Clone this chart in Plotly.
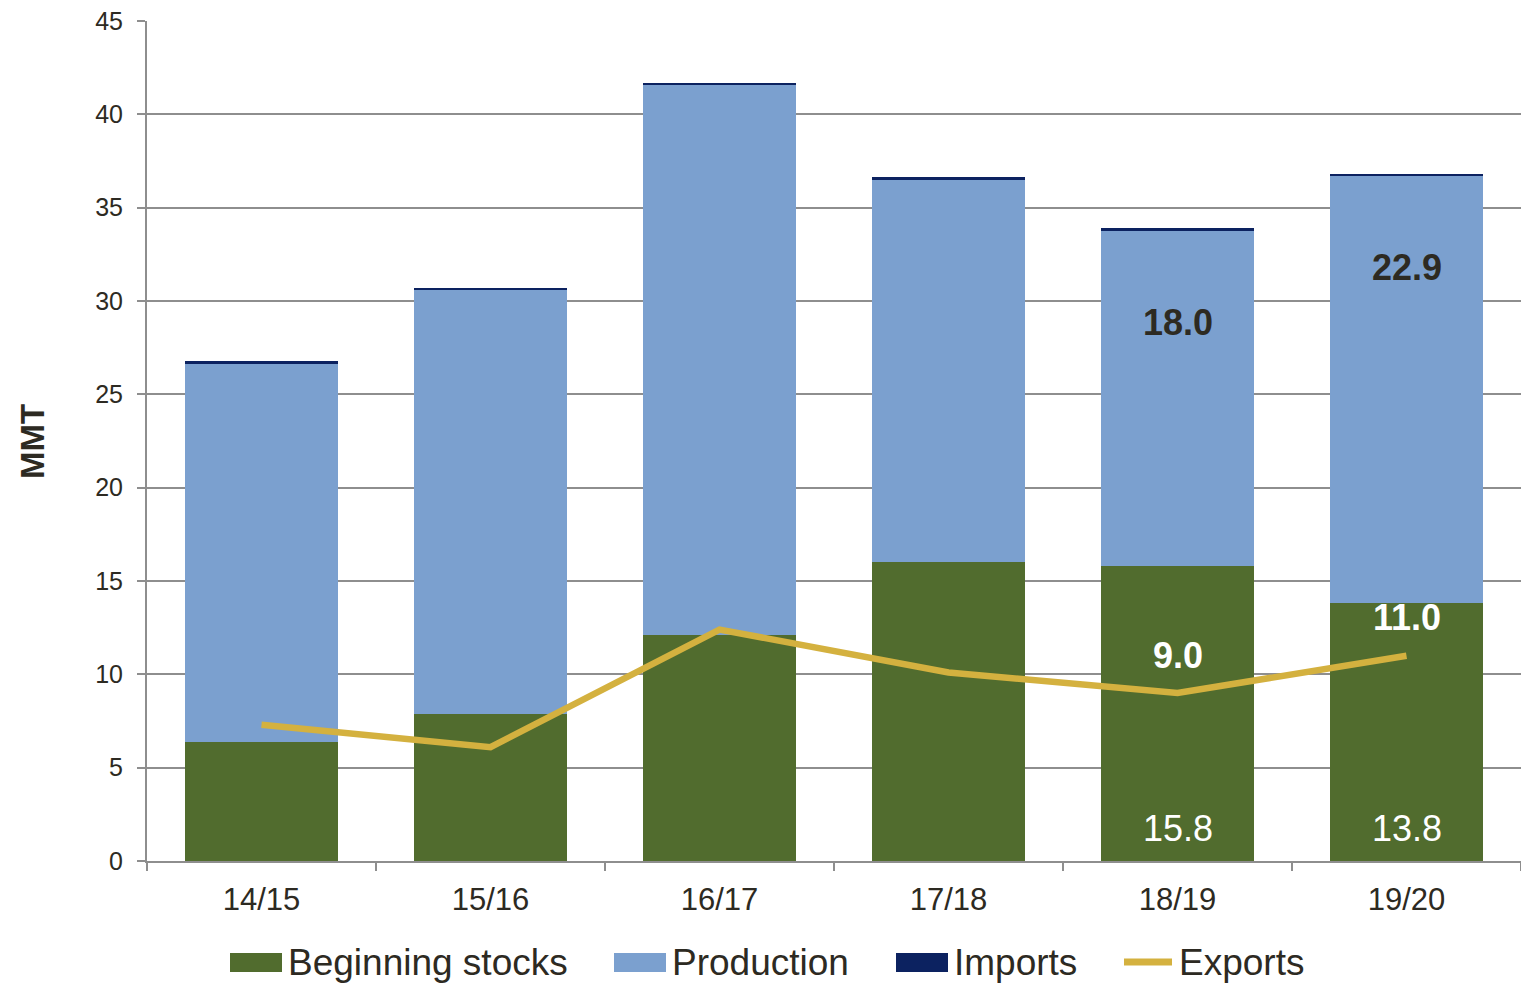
import plotly.graph_objects as go

# ---- data ----
categories = ["14/15", "15/16", "16/17", "17/18", "18/19", "19/20"]
beginning_stocks = [6.4, 7.9, 12.1, 16.0, 15.8, 13.8]
production = [20.2, 22.7, 29.5, 20.5, 18.0, 22.9]
imports = [0.2, 0.1, 0.1, 0.15, 0.1, 0.1]
exports = [7.3, 6.1, 12.4, 10.1, 9.0, 11.0]
labeled = ["18/19", "19/20"]

C_BS = "#516C2E"
C_PROD = "#7BA0CF"
C_IMP = "#0C2260"
C_EXP = "#D4B13F"
TXT = "#2D2A22"
GRID = "#8E8E8E"
FONT = "Liberation Sans, Arial, sans-serif"

fig = go.Figure()
fig.add_trace(go.Bar(name="Beginning stocks", x=categories, y=beginning_stocks,
                     marker=dict(color=C_BS, line=dict(width=0))))
fig.add_trace(go.Bar(name="Production", x=categories, y=production,
                     marker=dict(color=C_PROD, line=dict(width=0))))
fig.add_trace(go.Bar(name="Imports", x=categories, y=imports,
                     marker=dict(color=C_IMP, line=dict(width=0))))
fig.add_trace(go.Scatter(name="Exports", x=categories, y=exports, mode="lines",
                         line=dict(color=C_EXP, width=6.5)))

# data labels
for i, c in enumerate(categories):
    if c not in labeled:
        continue
    fig.add_annotation(x=c, y=0, yshift=33, text=f"{beginning_stocks[i]:.1f}",
                       showarrow=False, font=dict(family=FONT, size=36, color="white"))
    fig.add_annotation(x=c, y=beginning_stocks[i] + production[i], yshift=-92,
                       text=f"<b>{production[i]:.1f}</b>", showarrow=False,
                       font=dict(family=FONT, size=36, color=TXT))
    fig.add_annotation(x=c, y=exports[i], yshift=38, text=f"<b>{exports[i]:.1f}</b>",
                       showarrow=False, font=dict(family=FONT, size=36, color="white"))

# y-axis title
fig.add_annotation(xref="paper", yref="paper", x=-0.0837, y=0.5, text="<b>MMT</b>",
                   textangle=-90, showarrow=False, xanchor="center", yanchor="middle",
                   font=dict(family=FONT, size=33, color=TXT))

# custom legend (pixel -> paper: x=(px-147)/1374, y=(861-py)/840)
def px(x):
    return (x - 147) / 1374

def py(y):
    return (861 - y) / 840

legend_items = [
    ("Beginning stocks", C_BS, "rect", 230),
    ("Production", C_PROD, "rect", 614),
    ("Imports", C_IMP, "rect", 896),
    ("Exports", C_EXP, "line", 1121),
]
for name, col, kind, x0 in legend_items:
    if kind == "rect":
        fig.add_shape(type="rect", xref="paper", yref="paper",
                      x0=px(x0), x1=px(x0 + 52), y0=py(972), y1=py(953),
                      fillcolor=col, line=dict(width=0))
    else:
        fig.add_shape(type="line", xref="paper", yref="paper",
                      x0=px(x0 + 3), x1=px(x0 + 51), y0=py(962), y1=py(962),
                      line=dict(color=col, width=7))
    fig.add_annotation(xref="paper", yref="paper", x=px(x0 + 56), y=py(962),
                       xanchor="left", yanchor="middle", text=name, showarrow=False,
                       font=dict(family=FONT, size=37, color=TXT))

fig.update_layout(
    barmode="stack",
    bargap=0.335,
    width=1521, height=984,
    autosize=False,
    margin=dict(l=147, r=0, t=21, b=123),
    paper_bgcolor="white",
    plot_bgcolor="white",
    showlegend=False,
    font=dict(family=FONT, color=TXT),
    xaxis=dict(
        type="category",
        range=[-0.5, 5.5],
        showline=True, linecolor=GRID, linewidth=2,
        ticks="outside", tickson="boundaries", ticklen=8, tickcolor=GRID, tickwidth=2,
        tickfont=dict(family=FONT, size=31, color=TXT),
        ticklabelstandoff=10,
        showgrid=False,
    ),
    yaxis=dict(
        range=[0, 45], dtick=5, tick0=0,
        showline=True, linecolor=GRID, linewidth=2,
        ticks="outside", ticklen=8, tickcolor=GRID, tickwidth=2,
        tickfont=dict(family=FONT, size=25, color=TXT),
        ticklabelstandoff=9,
        showgrid=True, gridcolor=GRID, gridwidth=2,
        zeroline=False,
    ),
)

fig.write_html("out.html", config={"displayModeBar": False},
               post_script="document.body.style.margin='0';document.body.style.overflow='hidden';")
